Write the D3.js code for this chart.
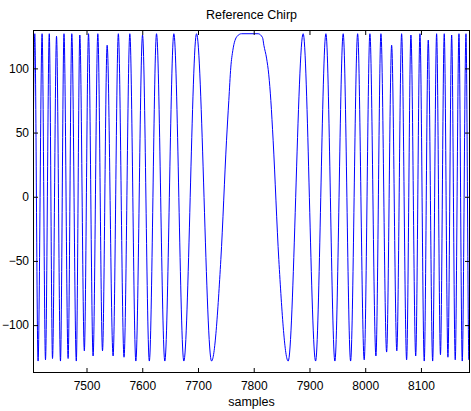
<!DOCTYPE html>
<html>
<head>
<meta charset="utf-8">
<script src="https://cdn.jsdelivr.net/npm/d3@7"></script>
<style>
  html, body { margin: 0; padding: 0; background: #fff; }
  svg { display: block; font-family: "Liberation Sans", Arial, Helvetica, sans-serif; }
  .tick text { font-size: 12px; fill: #000; }
</style>
</head>
<body>
<svg id="chart" width="471" height="411"></svg>
<script>
// Chirp trace: sample index and amplitude at each turning point
// (plus a few points along the slow central lobe).
const sampleIdx = [
  7404, 7407.2, 7413.1, 7420.3, 7426.4, 7433.2, 7439.0, 7446.2, 7453.3, 7459.6,
  7467.0, 7473.6, 7481.7, 7488.0, 7496.1, 7503.6, 7511.8, 7520.3, 7528.7, 7537.0,
  7547.7, 7557.1, 7567.3, 7577.7, 7588.5, 7600.5, 7612.7, 7625.6, 7640.5, 7656.7,
  7674.6, 7697.4, 7724.3, 7741.0, 7751.2, 7755.3, 7758.9, 7762.5, 7770.2, 7778.1,
  7807.9, 7815.8, 7818.2, 7823.0, 7827.0, 7830.7, 7834.8, 7845.0, 7861.8, 7888.7,
  7911.0, 7929.5, 7945.6, 7960.5, 7973.8, 7986.4, 7998.2, 8008.4, 8019.2, 8028.2,
  8038.4, 8047.4, 8056.7, 8065.3, 8074.3, 8082.0, 8090.6, 8098.2, 8105.9, 8113.1,
  8121.0, 8128.1, 8135.0, 8141.8, 8148.4, 8155.1, 8161.5, 8168.2, 8174.1, 8180.8,
  8186.1, 8188
];
const amplitude = [
  27, 127, -128, 127, -127, 127, -126, 125, -128, 127,
  -126, 127, -128, 126, -120, 127, -124, 127, -120, 118,
  -124, 127, -125, 127, -128, 126, -128, 127, -128, 127,
  -128, 127, -128, -49, 44, 75, 101, 114, 125, 127,
  127, 124, 118, 108, 95, 75, 44, -49, -128, 127,
  -128, 127, -128, 127, -128, 127, -127, 127, -124, 127,
  -121, 118, -120, 127, -127, 126, -124, 127, -128, 122,
  -128, 127, -123, 127, -125, 126, -127, 127, -128, 127,
  -127, -75
];

const xDomain = [7404, 8188];
const yDomain = [-137.3, 129.9];
const xTicks = [7500, 7600, 7700, 7800, 7900, 8000, 8100];
const yTicks = [-100, -50, 0, 50, 100];

const titleText = "Reference Chirp";
const xLabel = "samples";

const svg = d3.select("#chart");
const plot = { left: 33, right: 470, top: 30, bottom: 373 };

const x = d3.scaleLinear().domain(xDomain).range([plot.left, plot.right]);
const y = d3.scaleLinear().domain(yDomain).range([plot.bottom, plot.top]);

svg.append("rect").attr("width", 471).attr("height", 411).attr("fill", "#fff");

svg.append("defs").append("clipPath").attr("id", "plotClip")
  .append("rect")
  .attr("x", plot.left).attr("y", plot.top)
  .attr("width", plot.right - plot.left).attr("height", plot.bottom - plot.top);

const points = sampleIdx.map((s, i) => [s, amplitude[i]]);

const line = d3.line()
  .x(d => x(d[0]))
  .y(d => y(d[1]))
  .curve(d3.curveMonotoneX);

svg.append("path")
  .datum(points)
  .attr("clip-path", "url(#plotClip)")
  .attr("fill", "none")
  .attr("stroke", "#0000ff")
  .attr("stroke-width", 1)
  .attr("d", line);

// Axes with inward ticks on all four sides
const tickLen = 5;
const styleAxis = g => {
  g.select(".domain").remove();
  g.selectAll(".tick line").attr("stroke", "#000");
};

svg.append("g")
  .attr("transform", `translate(0,${plot.bottom})`)
  .call(d3.axisBottom(x).tickValues(xTicks).tickSize(-tickLen).tickPadding(8).tickFormat(d3.format("d")))
  .call(styleAxis);

svg.append("g")
  .attr("transform", `translate(0,${plot.top})`)
  .call(d3.axisTop(x).tickValues(xTicks).tickSize(-tickLen).tickFormat(""))
  .call(styleAxis);

svg.append("g")
  .attr("transform", `translate(${plot.left},0)`)
  .call(d3.axisLeft(y).tickValues(yTicks).tickSize(-tickLen).tickPadding(4).tickFormat(d3.format("d")))
  .call(styleAxis);

svg.append("g")
  .attr("transform", `translate(${plot.right},0)`)
  .call(d3.axisRight(y).tickValues(yTicks).tickSize(-tickLen).tickFormat(""))
  .call(styleAxis);

svg.selectAll(".tick text").attr("font-family", null).attr("font-size", null);

// Axes box
svg.append("rect")
  .attr("x", plot.left + 0.5).attr("y", plot.top + 0.5)
  .attr("width", plot.right - plot.left - 1).attr("height", plot.bottom - plot.top - 1)
  .attr("fill", "none").attr("stroke", "#000").attr("stroke-width", 1);

svg.append("text")
  .attr("x", (plot.left + plot.right) / 2)
  .attr("y", 18.5)
  .attr("text-anchor", "middle")
  .attr("font-size", 12.5)
  .attr("fill", "#000")
  .text(titleText);

svg.append("text")
  .attr("x", (plot.left + plot.right) / 2)
  .attr("y", 405.5)
  .attr("text-anchor", "middle")
  .attr("font-size", 12.5)
  .attr("fill", "#000")
  .text(xLabel);
</script>
</body>
</html>
